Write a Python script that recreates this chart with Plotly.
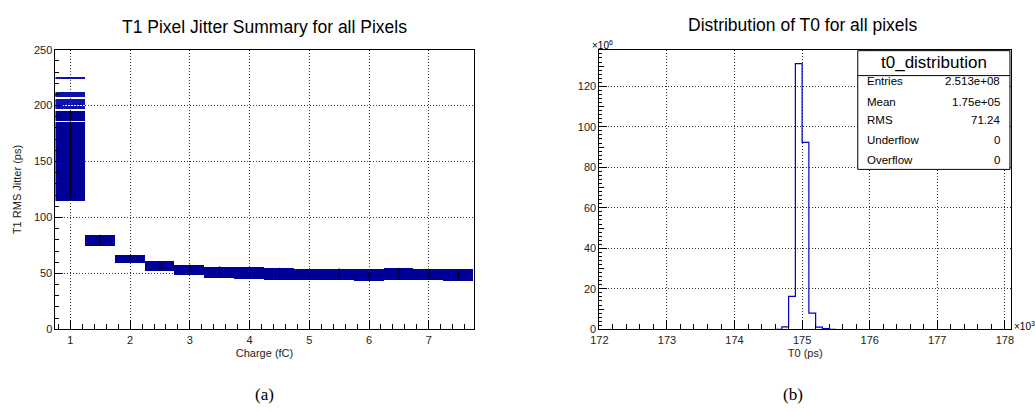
import plotly.graph_objects as go

W, H = 1035, 412

# ---------------- Data: left panel (T1 jitter vs charge) ----------------
charge_centers = [1.0, 1.5, 2.0, 2.5, 3.0, 3.5, 4.0, 4.5, 5.0, 5.5, 6.0, 6.5, 7.0, 7.5]
jitter_low = [115.0, 74.7, 59.9, 52.4, 48.4, 46.0, 45.5, 44.6, 44.3, 44.4, 43.4, 44.3, 44.3, 43.4]
jitter_high = [185.5, 84.5, 66.3, 61.1, 57.9, 56.4, 55.9, 55.0, 54.5, 54.5, 54.0, 55.0, 54.3, 53.8]
# dense upper part of the first charge bin and isolated pixel lines above it
first_bin_block = [(186.8, 195.8)]
first_bin_lines = [224.6, 211.5, 209.6, 208.7, 204.4, 203.5, 201.4, 198.6, 197.3]
charge_bin_width = 0.5

# ---------------- Data: right panel (T0 distribution) ----------------
t0_bin_left = [174.6, 174.7, 174.8, 174.9, 175.0, 175.1, 175.2, 175.3, 175.4]  # x10^3 ps
t0_counts = [0.0, 1.2, 16.3, 131.2, 92.3, 8.0, 1.1, 0.3, 0.0]                  # x10^6
stat_names = ["Entries", "Mean", "RMS", "Underflow", "Overflow"]
stat_values = ["2.513e+08", "1.75e+05", "71.24", "0", "0"]
stats_title = "t0_distribution"

FONT = "Liberation Sans, Arial, sans-serif"
BOX_BLUE = "#000099"
LINE_BLUE = "#0000c8"
GRID = "rgba(0,0,0,0.8)"

def px_x(p):
    return p / W

def px_y(p):
    return 1 - p / H

fig = go.Figure()

# left: boxes per charge bin
fig.add_trace(go.Bar(
    x=charge_centers, base=jitter_low,
    y=[h - l for l, h in zip(jitter_low, jitter_high)],
    width=charge_bin_width, marker=dict(color=BOX_BLUE, line=dict(width=0)),
    xaxis="x", yaxis="y", showlegend=False, hoverinfo="skip"))
fig.add_trace(go.Bar(
    x=[charge_centers[0]] * len(first_bin_block),
    base=[b[0] for b in first_bin_block],
    y=[b[1] - b[0] for b in first_bin_block],
    width=charge_bin_width, marker=dict(color=BOX_BLUE, line=dict(width=0)),
    xaxis="x", yaxis="y", showlegend=False, hoverinfo="skip"))
fig.add_trace(go.Bar(
    x=[charge_centers[0]] * len(first_bin_lines),
    base=first_bin_lines, y=[0.9] * len(first_bin_lines),
    width=charge_bin_width, marker=dict(color="#1010b0", line=dict(width=0)),
    xaxis="x", yaxis="y", showlegend=False, hoverinfo="skip"))
# black vertical lines at bin centres
vx, vy = [], []
for c, l, h in zip(charge_centers, jitter_low, jitter_high):
    top = first_bin_block[0][1] if c == charge_centers[0] else h
    vx += [c, c, None]
    vy += [l, top, None]
fig.add_trace(go.Scatter(x=vx, y=vy, mode="lines", line=dict(color="black", width=1),
                         xaxis="x", yaxis="y", showlegend=False, hoverinfo="skip"))

# right: step histogram
step_x = t0_bin_left + [t0_bin_left[-1] + 0.1]
step_y = t0_counts + [t0_counts[-1]]
fig.add_trace(go.Scatter(x=step_x, y=step_y, mode="lines", line_shape="hv",
                         line=dict(color=LINE_BLUE, width=1.2),
                         xaxis="x2", yaxis="y2", showlegend=False, hoverinfo="skip"))
# dummy trace for the overlay tick axis
fig.add_trace(go.Scatter(x=[173], y=[10], mode="markers", marker=dict(opacity=0),
                         xaxis="x2", yaxis="y3", showlegend=False, hoverinfo="skip"))

tickfont = dict(family=FONT, size=11, color="#222")
titlefont = dict(family=FONT, size=11, color="#222")
common = dict(showline=True, linecolor="black", linewidth=1, mirror=True,
              ticks="inside", tickcolor="black", tickwidth=1,
              showgrid=True, gridcolor=GRID, griddash="1px,2px", gridwidth=1,
              zeroline=False, tickfont=tickfont)

yd = [px_y(333), px_y(45)]
fig.update_layout(
    width=W, height=H, margin=dict(l=0, r=0, t=0, b=0),
    paper_bgcolor="white", plot_bgcolor="white", barmode="overlay", bargap=0,
    xaxis=dict(domain=[px_x(47), px_x(470)], range=[0.75, 7.75], anchor="y",
               tick0=0, dtick=1, ticklen=9,
               minor=dict(tick0=0, dtick=0.2, ticklen=5, ticks="inside", tickcolor="black", showgrid=False),
               title=dict(text="Charge (fC)", font=titlefont, standoff=4),
               **common),
    yaxis=dict(domain=yd, range=[0, 250], anchor="x", tick0=0, dtick=50, ticklen=8,
               minor=dict(tick0=0, dtick=10, ticklen=4, ticks="inside", tickcolor="black", showgrid=False),
               title=dict(text="T1 RMS Jitter (ps)", font=titlefont, standoff=10),
               **common),
    xaxis2=dict(domain=[px_x(597.3), px_x(1013.7)], range=[172, 178.09], anchor="y2",
                tick0=0, dtick=1, ticklen=9,
                minor=dict(tick0=0, dtick=0.2, ticklen=5, ticks="inside", tickcolor="black", showgrid=False),
                title=dict(text="T0 (ps)", font=titlefont, standoff=4),
                **common),
    yaxis2=dict(domain=yd, range=[0, 138.1], anchor="x2", tick0=0, dtick=20, ticklen=8,
                minor=dict(tick0=0, dtick=2, ticklen=3, ticks="inside", tickcolor="black", showgrid=False),
                **common),
    yaxis3=dict(overlaying="y2", anchor="x2", range=[0, 138.1], tickvals=[10, 30, 50, 70, 90, 110, 130],
                ticks="inside", ticklen=5, tickcolor="black", showticklabels=False,
                showgrid=False, showline=False, zeroline=False),
)

ann = []
ann.append(dict(text="T1 Pixel Jitter Summary for all Pixels", x=px_x(258.5), y=px_y(22),
                xref="paper", yref="paper", showarrow=False, xanchor="center", yanchor="middle",
                font=dict(family=FONT, size=17.5, color="black")))
ann.append(dict(text="Distribution of T0 for all pixels", x=px_x(803), y=px_y(20),
                xref="paper", yref="paper", showarrow=False, xanchor="center", yanchor="middle",
                font=dict(family=FONT, size=17.5, color="black")))
ann.append(dict(text="×10<sup>6</sup>", x=px_x(588), y=px_y(40), xref="paper", yref="paper",
                showarrow=False, xanchor="left", yanchor="middle",
                font=dict(family=FONT, size=10, color="black")))
ann.append(dict(text="×10<sup>3</sup>", x=px_x(1015), y=px_y(330), xref="paper", yref="paper",
                showarrow=False, xanchor="left", yanchor="middle",
                font=dict(family=FONT, size=10, color="black")))
ann.append(dict(text="(a)", x=px_x(258), y=px_y(400), xref="paper", yref="paper",
                showarrow=False, xanchor="center", yanchor="middle",
                font=dict(family="Liberation Serif, Times New Roman, serif", size=17, color="black")))
ann.append(dict(text="(b)", x=px_x(793), y=px_y(400), xref="paper", yref="paper",
                showarrow=False, xanchor="center", yanchor="middle",
                font=dict(family="Liberation Serif, Times New Roman, serif", size=17, color="black")))

# stats box
bx0, bx1, by0, by1, bsep = 858.7, 1012.7, 46, 168.3, 71.7
shapes = [
    dict(type="rect", xref="paper", yref="paper", x0=px_x(bx0), x1=px_x(bx1), y0=px_y(by1), y1=px_y(by0),
         fillcolor="white", line=dict(color="black", width=1), layer="above"),
    dict(type="line", xref="paper", yref="paper", x0=px_x(bx0), x1=px_x(bx1), y0=px_y(bsep), y1=px_y(bsep),
         line=dict(color="black", width=1), layer="above"),
]
ann.append(dict(text=stats_title, x=px_x((bx0 + bx1) / 2), y=px_y(58.5), xref="paper", yref="paper",
                showarrow=False, xanchor="center", yanchor="middle",
                font=dict(family=FONT, size=17, color="black")))
row_y = [77.3, 98.7, 117.3, 137.7, 159.0]
for name, val, ry in zip(stat_names, stat_values, row_y):
    ann.append(dict(text=name, x=px_x(866.5), y=px_y(ry), xref="paper", yref="paper",
                    showarrow=False, xanchor="left", yanchor="middle",
                    font=dict(family=FONT, size=11.5, color="black")))
    ann.append(dict(text=val, x=px_x(1004.5), y=px_y(ry), xref="paper", yref="paper",
                    showarrow=False, xanchor="right", yanchor="middle",
                    font=dict(family=FONT, size=11.5, color="black")))

fig.update_layout(annotations=ann, shapes=shapes)
fig.write_html("out.html")
